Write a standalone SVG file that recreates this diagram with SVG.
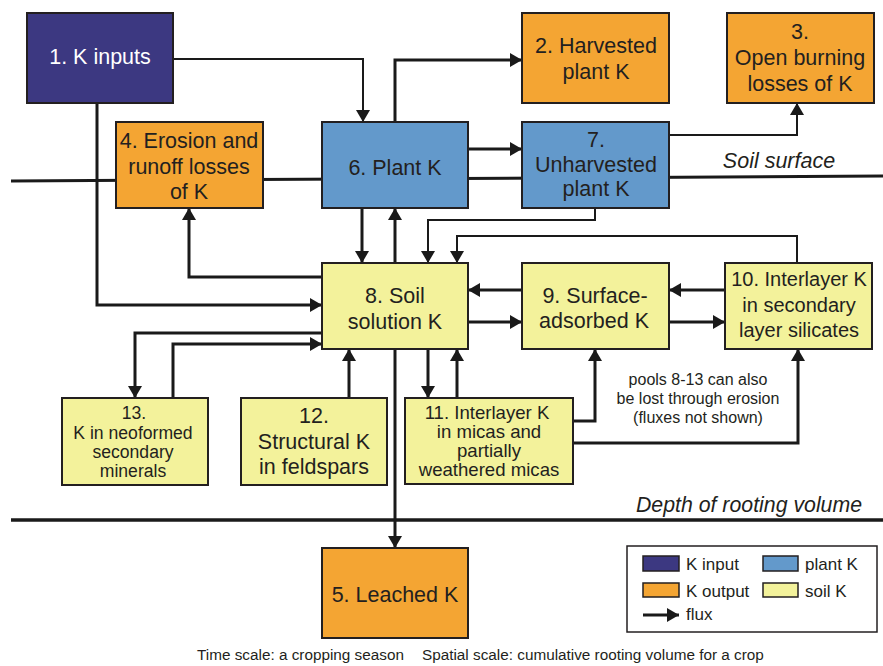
<svg xmlns="http://www.w3.org/2000/svg" width="883" height="666" viewBox="0 0 883 666">
<defs>
<marker id="ah" markerUnits="userSpaceOnUse" markerWidth="12" markerHeight="14" viewBox="0 0 12 14" refX="12" refY="7" orient="auto">
<path d="M0,0 L12,7 L0,14 z" fill="#1a1a1a"/>
</marker>
<style>
text{font-family:"Liberation Sans",Arial,sans-serif;fill:#231f20;text-anchor:middle}
.box{stroke:#231f20;stroke-width:2}
.in{fill:#3c3881}
.out{fill:#f4a533}
.pl{fill:#6399cb}
.so{fill:#f3f29b}
.c{fill:none;stroke:#1a1a1a;stroke-width:3;marker-end:url(#ah)}
.t{stroke-width:2}
.f21{font-size:21.5px}
.f20{font-size:20px}
.f18{font-size:18.6px}
.f16{font-size:17.6px}
.lg{font-size:17px;text-anchor:start}
</style>
</defs>
<rect width="883" height="666" fill="#fff"/>
<g id="boundaries">
<line x1="11" y1="181" x2="883" y2="176" stroke="#1a1a1a" stroke-width="3"/>
<line x1="11" y1="520" x2="883" y2="520" stroke="#1a1a1a" stroke-width="3.5"/>
<text x="779" y="168" font-size="21.5" font-style="italic">Soil surface</text>
<text x="749" y="512" font-size="21.3" font-style="italic">Depth of rooting volume</text>
</g>
<g id="connectors">
<path class="c t" d="M173,59 H363 V122"/>
<path class="c" d="M97,103 V305 H322"/>
<path class="c" d="M395,122 V60 H522"/>
<path class="c" d="M468,149 H522"/>
<path class="c t" d="M669,135 H797 V103"/>
<path class="c" d="M322,277 H189 V208"/>
<path class="c" d="M362,208 V263"/>
<path class="c" d="M395,263 V208"/>
<path class="c t" d="M595,208 V220 H428 V263"/>
<path class="c t" d="M797,263 V236 H457 V263"/>
<path class="c" d="M522,290 H468"/>
<path class="c" d="M468,322 H522"/>
<path class="c" d="M725,290 H669"/>
<path class="c" d="M669,322 H725"/>
<path class="c" d="M322,333 H135 V398"/>
<path class="c" d="M173,398 V344 H322"/>
<path class="c" d="M349,398 V349"/>
<path class="c" d="M395,349 V548"/>
<path class="c" d="M428,349 V398"/>
<path class="c" d="M457,398 V349"/>
<path class="c" d="M573,421 H595 V349"/>
<path class="c" d="M573,443 H798 V349"/>
</g>
<g id="n1"><rect class="box in" x="27" y="13" width="146" height="90"/><text class="f21" x="100" y="64" style="fill:#fff">1. K inputs</text></g>
<g id="n2"><rect class="box out" x="522" y="13" width="147" height="90"/><text class="f21" x="596" y="53">2. Harvested</text><text class="f21" x="596" y="79">plant K</text></g>
<g id="n3"><rect class="box out" x="727" y="13" width="147" height="90"/><text class="f21" x="800" y="39">3.</text><text class="f21" x="800" y="65">Open burning</text><text class="f21" x="800" y="91">losses of  K</text></g>
<g id="n4"><rect class="box out" x="116" y="122" width="147" height="86"/><text class="f21" x="189" y="148">4. Erosion and</text><text class="f21" x="189" y="174">runoff losses</text><text class="f21" x="189" y="199">of K</text></g>
<g id="n6"><rect class="box pl" x="322" y="122" width="146" height="86"/><text class="f21" x="395" y="175">6. Plant K</text></g>
<g id="n7"><rect class="box pl" x="522" y="122" width="147" height="86"/><text class="f21" x="596" y="147">7.</text><text class="f21" x="596" y="172">Unharvested</text><text class="f21" x="596" y="196">plant K</text></g>
<g id="n8"><rect class="box so" x="322" y="263" width="146" height="86"/><text class="f21" x="395" y="303">8. Soil</text><text class="f21" x="395" y="329">solution K</text></g>
<g id="n9"><rect class="box so" x="522" y="263" width="147" height="86"/><text class="f21" x="595" y="303">9. Surface-</text><text class="f21" x="594" y="328">adsorbed K</text></g>
<g id="n10"><rect class="box so" x="725" y="263" width="147" height="86"/><text class="f20" x="799" y="286">10. Interlayer K</text><text class="f20" x="799" y="312">in secondary</text><text class="f20" x="799" y="337">layer silicates</text></g>
<g id="n11"><rect class="box so" x="405" y="398" width="168" height="86"/><text class="f18" x="487" y="419">11. Interlayer K</text><text class="f18" x="489" y="438">in micas and</text><text class="f18" x="489" y="457">partially</text><text class="f18" x="489" y="476">weathered micas</text></g>
<g id="n12"><rect class="box so" x="241" y="398" width="146" height="87"/><text class="f21" x="314" y="423">12.</text><text class="f21" x="314" y="449">Structural K</text><text class="f21" x="314" y="474">in feldspars</text></g>
<g id="n13"><rect class="box so" x="62" y="398" width="146" height="87"/><text class="f16" x="134" y="419">13.</text><text class="f16" x="133" y="439">K in neoformed</text><text class="f16" x="133" y="458">secondary</text><text class="f16" x="133" y="477">minerals</text></g>
<g id="n5"><rect class="box out" x="322" y="548" width="146" height="90"/><text class="f21" x="395" y="602">5. Leached K</text></g>
<g id="note"><text font-size="16" x="698" y="385">pools 8-13 can also</text><text font-size="16" x="698" y="404">be lost through erosion</text><text font-size="16" x="698" y="423">(fluxes not shown)</text></g>
<g id="legend">
<rect x="627" y="546" width="250" height="86" fill="#fff" stroke="#231f20" stroke-width="1.5"/>
<rect class="box in" x="643" y="556" width="36" height="15" style="stroke-width:1.5"/>
<rect class="box pl" x="763" y="556" width="35" height="15" style="stroke-width:1.5"/>
<rect class="box out" x="643" y="583" width="36" height="14" style="stroke-width:1.5"/>
<rect class="box so" x="763" y="583" width="35" height="14" style="stroke-width:1.5"/>
<text class="lg" x="686" y="570">K input</text>
<text class="lg" x="805" y="570">plant K</text>
<text class="lg" x="686" y="597">K output</text>
<text class="lg" x="805" y="597">soil K</text>
<path class="c" d="M643,615 H679"/>
<text class="lg" x="686" y="620">flux</text>
</g>
<g id="caption"><text font-size="15.3" x="197" y="660" style="text-anchor:start">Time scale: a cropping season</text><text font-size="15.3" x="422" y="660" style="text-anchor:start">Spatial scale: cumulative rooting volume for a crop</text></g>
</svg>
